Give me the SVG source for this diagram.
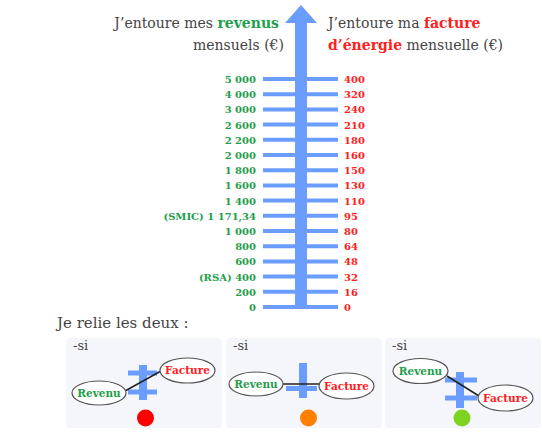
<svg xmlns="http://www.w3.org/2000/svg" width="542" height="442" viewBox="0 0 542 442">
<style>
.hd{font-family:"DejaVu Serif","Liberation Serif",serif;font-size:14px;fill:#444}
.b{font-weight:bold}
.g{fill:#1f9e4b}
.r{fill:#ff2020}
.lab{font-family:"DejaVu Serif","Liberation Serif",serif;font-size:10px;font-weight:bold}
.nl{font-size:10.5px}
.tick{stroke:#6b9cff;stroke-width:4}
.panel{fill:#f5f6fb}
.si{font-family:"DejaVu Serif","Liberation Serif",serif;font-size:13px;fill:#444}
.ell{fill:#fff;stroke:#555;stroke-width:1.2}
.bar{fill:#6b9cff}
.ln{stroke:#222;stroke-width:1.5}
</style>
<rect width="542" height="442" fill="#fff"/>
<g id="header">
<text class="hd" x="279" y="28" text-anchor="end">J’entoure mes <tspan class="b g">revenus</tspan></text>
<text class="hd" x="284" y="50" text-anchor="end">mensuels (€)</text>
<text class="hd" x="328" y="28">J’entoure ma <tspan class="b r">facture</tspan></text>
<text class="hd" x="328" y="50"><tspan class="b r">d’énergie</tspan> mensuelle (€)</text>
</g>
<g id="scale">
<rect x="295" y="22" width="12" height="286" fill="#6b9cff"/>
<polygon points="301,5 317,23 285,23" fill="#6b9cff"/>
<g class="tick">
<line x1="263" y1="79" x2="338" y2="79"/>
<line x1="263" y1="94.2" x2="338" y2="94.2"/>
<line x1="263" y1="109.4" x2="338" y2="109.4"/>
<line x1="263" y1="124.6" x2="338" y2="124.6"/>
<line x1="263" y1="139.8" x2="338" y2="139.8"/>
<line x1="263" y1="155" x2="338" y2="155"/>
<line x1="263" y1="170.2" x2="338" y2="170.2"/>
<line x1="263" y1="185.4" x2="338" y2="185.4"/>
<line x1="263" y1="200.6" x2="338" y2="200.6"/>
<line x1="263" y1="215.8" x2="338" y2="215.8"/>
<line x1="263" y1="231" x2="338" y2="231"/>
<line x1="263" y1="246.2" x2="338" y2="246.2"/>
<line x1="263" y1="261.4" x2="338" y2="261.4"/>
<line x1="263" y1="276.6" x2="338" y2="276.6"/>
<line x1="263" y1="291.8" x2="338" y2="291.8"/>
<line x1="263" y1="307" x2="338" y2="307"/>
</g>
<g class="lab g" text-anchor="end">
<text x="256" y="83">5 000</text>
<text x="256" y="98.2">4 000</text>
<text x="256" y="113.4">3 000</text>
<text x="256" y="128.6">2 600</text>
<text x="256" y="143.8">2 200</text>
<text x="256" y="159">2 000</text>
<text x="256" y="174.2">1 800</text>
<text x="256" y="189.4">1 600</text>
<text x="256" y="204.6">1 400</text>
<text x="256" y="219.8">(SMIC) 1 171,34</text>
<text x="256" y="235">1 000</text>
<text x="256" y="250.2">800</text>
<text x="256" y="265.4">600</text>
<text x="256" y="280.6">(RSA) 400</text>
<text x="256" y="295.8">200</text>
<text x="256" y="311">0</text>
</g>
<g class="lab r">
<text x="344" y="83">400</text>
<text x="344" y="98.2">320</text>
<text x="344" y="113.4">240</text>
<text x="344" y="128.6">210</text>
<text x="344" y="143.8">180</text>
<text x="344" y="159">160</text>
<text x="344" y="174.2">150</text>
<text x="344" y="189.4">130</text>
<text x="344" y="204.6">110</text>
<text x="344" y="219.8">95</text>
<text x="344" y="235">80</text>
<text x="344" y="250.2">64</text>
<text x="344" y="265.4">48</text>
<text x="344" y="280.6">32</text>
<text x="344" y="295.8">16</text>
<text x="344" y="311">0</text>
</g>
</g>
<text x="57" y="328" style="font-family:'DejaVu Serif','Liberation Serif',serif;font-size:15px;fill:#444">Je relie les deux :</text>
<g id="panel1">
<rect class="panel" x="66" y="338" width="156" height="90" rx="4"/>
<text class="si" x="73" y="350">-si</text>
<rect class="bar" x="139" y="365" width="8" height="35"/>
<rect class="bar" x="128" y="370.5" width="29" height="5"/>
<rect class="bar" x="128" y="389.5" width="29" height="5"/>
<line class="ln" x1="125" y1="391" x2="161" y2="371"/>
<ellipse class="ell" cx="99" cy="393" rx="27" ry="12"/>
<text class="lab nl g" x="99" y="396.5" text-anchor="middle">Revenu</text>
<ellipse class="ell" cx="187.5" cy="370.5" rx="27.5" ry="12.5"/>
<text class="lab nl r" x="187.5" y="374" text-anchor="middle">Facture</text>
<circle cx="145.5" cy="418" r="8.5" fill="#ff0000"/>
</g>
<g id="panel2">
<rect class="panel" x="226" y="338" width="156" height="90" rx="4"/>
<text class="si" x="233" y="350">-si</text>
<rect class="bar" x="299" y="363" width="8" height="35"/>
<rect class="bar" x="286" y="386" width="31" height="5"/>
<line class="ln" x1="283" y1="384" x2="319" y2="384"/>
<ellipse class="ell" cx="256" cy="384" rx="27" ry="12"/>
<text class="lab nl g" x="256" y="387.5" text-anchor="middle">Revenu</text>
<ellipse class="ell" cx="346.5" cy="386" rx="27.5" ry="13"/>
<text class="lab nl r" x="346.5" y="389.5" text-anchor="middle">Facture</text>
<circle cx="308.5" cy="418" r="8.5" fill="#ff8000"/>
</g>
<g id="panel3">
<rect class="panel" x="385" y="338" width="156" height="90" rx="4"/>
<text class="si" x="392" y="350">-si</text>
<rect class="bar" x="456" y="372" width="8" height="36"/>
<rect class="bar" x="445" y="377.5" width="32" height="5"/>
<rect class="bar" x="445" y="395.5" width="32" height="5"/>
<line class="ln" x1="447" y1="376" x2="479" y2="396"/>
<ellipse class="ell" cx="420.5" cy="371" rx="27.5" ry="12.5"/>
<text class="lab nl g" x="420.5" y="374.5" text-anchor="middle">Revenu</text>
<ellipse class="ell" cx="505.5" cy="398" rx="27.5" ry="13"/>
<text class="lab nl r" x="505.5" y="401.5" text-anchor="middle">Facture</text>
<circle cx="462" cy="418" r="8.5" fill="#7ed321"/>
</g>
</svg>
